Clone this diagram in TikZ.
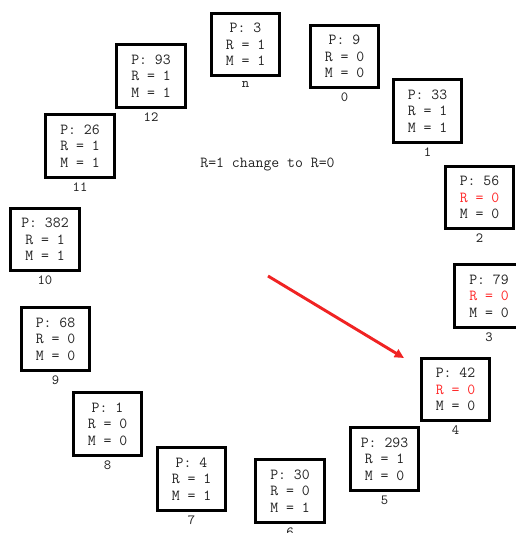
\documentclass[tikz,border=0pt]{standalone}
\usetikzlibrary{arrows.meta}
\definecolor{txt}{RGB}{35,35,35}
\definecolor{redtxt}{RGB}{255,40,40}
\definecolor{redarrow}{RGB}{240,35,35}
\tikzset{
  cell/.style={draw=black, line width=2.4pt, fill=white, minimum width=51.5pt, minimum height=47pt,
    inner sep=0pt, align=center, text=txt, font=\ttfamily\fontsize{11.5}{12.3}\selectfont},
  idx/.style={anchor=north, inner sep=0pt, text=txt, font=\ttfamily\fontsize{10.5}{11}\selectfont, yshift=-2.5pt},
  note/.style={text=txt, font=\ttfamily\fontsize{11.5}{12.3}\selectfont},
  redarr/.style={draw=redarrow, line width=2.2pt, -{Triangle[length=7pt,width=6.5pt]}}
}
\newcommand{\rz}{\textcolor{redtxt}{R = 0}}
\begin{document}
\begin{tikzpicture}[x=0.75pt,y=-0.75pt]
\useasboundingbox (0,0) rectangle (516,533);
\node[cell] (bn)  at (245.5,44.5) {P: 3\\R = 1\\M = 1};
\node[cell] (b0)  at (344.5,56.5) {P: 9\\R = 0\\M = 0};
\node[cell] (b1)  at (427.5,111)  {P: 33\\R = 1\\M = 1};
\node[cell] (b2)  at (479.5,197.5) {P: 56\\\rz\\M = 0};
\node[cell] (b3)  at (489,296)    {P: 79\\\rz\\M = 0};
\node[cell] (b4)  at (455.5,389.5) {P: 42\\\rz\\M = 0};
\node[cell] (b5)  at (384.5,459)  {P: 293\\R = 1\\M = 0};
\node[cell] (b6)  at (290,491)    {P: 30\\R = 0\\M = 1};
\node[cell] (b7)  at (191.5,479)  {P: 4\\R = 1\\M = 1};
\node[cell] (b8)  at (107.5,424)  {P: 1\\R = 0\\M = 0};
\node[cell] (b9)  at (55.5,339)   {P: 68\\R = 0\\M = 0};
\node[cell] (b10) at (45,239.5)   {P: 382\\R = 1\\M = 1};
\node[cell] (b11) at (80,146)     {P: 26\\R = 1\\M = 1};
\node[cell] (b12) at (151,76)     {P: 93\\R = 1\\M = 1};
\node[idx] (ln)  at (bn.south)  {n};
\node[idx] (l0)  at (b0.south)  {0};
\node[idx] (l1)  at (b1.south)  {1};
\node[idx] (l2)  at (b2.south)  {2};
\node[idx] (l3)  at (b3.south)  {3};
\node[idx] (l4)  at (b4.south)  {4};
\node[idx] (l5)  at (b5.south)  {5};
\node[idx] (l6)  at (b6.south)  {6};
\node[idx] (l7)  at (b7.south)  {7};
\node[idx] (l8)  at (b8.south)  {8};
\node[idx] (l9)  at (b9.south)  {9};
\node[idx] (l10) at (b10.south) {10};
\node[idx] (l11) at (b11.south) {11};
\node[idx] (l12) at (b12.south) {12};
\node[note] (msg) at (267.5,164) {R=1 change to R=0};
\coordinate (as) at (268,276);
\coordinate (ae) at (404,358);
\draw[redarr] (as) -- (ae);
\end{tikzpicture}
\end{document}
